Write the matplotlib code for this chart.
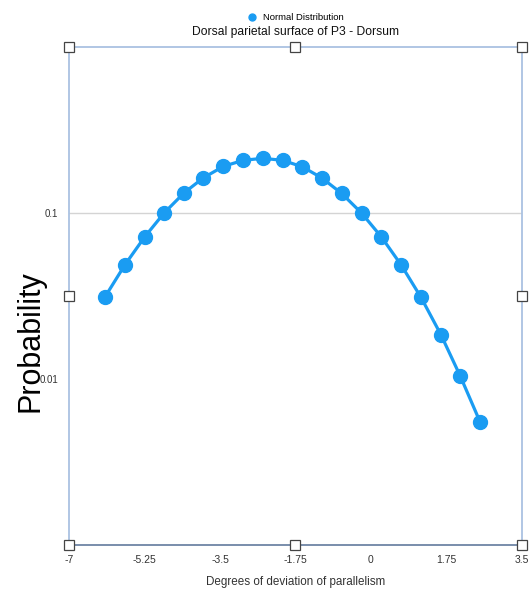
import matplotlib.pyplot as plt
from matplotlib.lines import Line2D
from matplotlib.ticker import NullLocator

plt.rcParams['font.family'] = ['Liberation Sans', 'DejaVu Sans']

# points
x = [-6.17, -5.70, -5.24, -4.79, -4.33, -3.89, -3.42, -2.96, -2.51, -2.05,
     -1.59, -1.14, -0.68, -0.22, 0.24, 0.70, 1.16, 1.62, 2.07, 2.53]
y = [0.0311, 0.0489, 0.0721, 0.1004, 0.1324, 0.1626, 0.1911, 0.2077, 0.2135, 0.2077,
     0.1898, 0.1626, 0.1312, 0.1000, 0.0718, 0.0486, 0.0310, 0.0185, 0.0104, 0.0055]

xticks = [-7, -5.25, -3.5, -1.75, 0, 1.75, 3.5]
xtick_labels = ['-7', '-5.25', '-3.5', '-1.75', '0', '1.75', '3.5']
yticks = [0.1, 0.01]
ytick_labels = ['0.1', '0.01']

blue = '#1a9cf2'

fig = plt.figure(figsize=(5.32, 5.92), dpi=100)
ax = fig.add_axes([0.1297, 0.0794, 0.8515, 0.8412])

ax.plot(x, y, color=blue, lw=2.3, marker='o', ms=10, zorder=3)

ax.set_yscale('log')
ax.set_xlim(-7, 3.5)
ax.set_ylim(0.001, 1)
ax.set_xticks(xticks)
ax.set_xticklabels(xtick_labels)
ax.set_yticks(yticks)
ax.set_yticklabels(ytick_labels)
ax.yaxis.set_minor_locator(NullLocator())
ax.tick_params(axis='x', length=0, pad=7, labelsize=7.5, colors='#333333')
ax.tick_params(axis='y', length=0, pad=8, labelsize=7, colors='#333333')
ax.axhline(0.1, color='#d4d4d4', lw=1, zorder=1)

for side in ['left', 'top', 'right']:
    ax.spines[side].set_color('#aac2e2')
    ax.spines[side].set_linewidth(1.3)
ax.spines['bottom'].set_color('#6e85a5')
ax.spines['bottom'].set_linewidth(1.3)

# selection handles
hx = [0, 0.5, 1, 0, 1, 0, 0.5, 1]
hy = [0, 0, 0, 0.5, 0.5, 1, 1, 1]
ax.plot(hx, hy, ls='none', marker='s', ms=6.5, mfc='white', mec='#444444', mew=0.9,
        transform=ax.transAxes, clip_on=False, zorder=5)

ax.set_xlabel('Degrees of deviation of parallelism', fontsize=8.4, color='#333333', labelpad=8)
ax.set_ylabel('Probability', fontsize=22, color='black')
ax.yaxis.set_label_coords(-0.052, 0.41)
ax.set_title('Dorsal parietal surface of P3 - Dorsum', fontsize=8.7, color='#111111', pad=9)

handle = Line2D([], [], ls='none', marker='o', ms=5, color=blue)
ax.legend([handle], ['Normal Distribution'], loc='lower center', bbox_to_anchor=(0.5, 1.04),
          frameon=False, fontsize=6.8, handlelength=1, handletextpad=0.6, borderpad=0)

fig.savefig('out.png', dpi=100)
